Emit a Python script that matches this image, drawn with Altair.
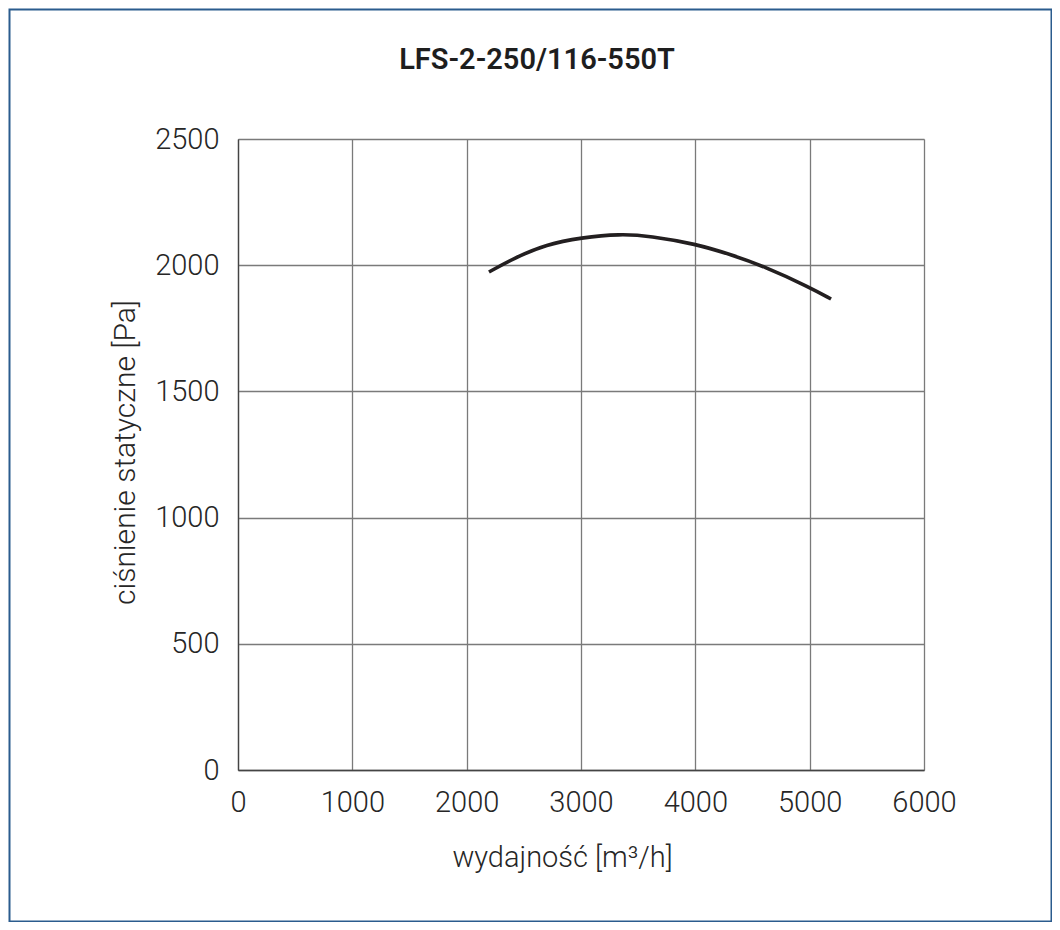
import altair as alt
import pandas as pd

# fan curve
flow = [2195, 2408, 2700, 3000, 3340, 3604, 4006, 4303, 4595, 5003, 5187]
pressure = [1973, 2027, 2083, 2109, 2124, 2116, 2084, 2043, 1997, 1912, 1866]

x_ticks = [0, 1000, 2000, 3000, 4000, 5000, 6000]
y_ticks = [0, 500, 1000, 1500, 2000, 2500]

title_text = "LFS-2-250/116-550T"
x_title = "wydajność [m³/h]"
y_title = "ciśnienie statyczne [Pa]"

font = "Roboto"
ink = "#262626"
grid = "#7a7a7a"

curve_df = pd.DataFrame({"flow": flow, "pressure": pressure})

x_enc = alt.X("flow:Q",
              scale=alt.Scale(domain=[0, 6000], nice=False),
              axis=alt.Axis(values=x_ticks, format="d", title=x_title, grid=True,
                            gridColor=grid, gridWidth=1.3,
                            domainColor="#444444", domainWidth=1.3,
                            ticks=False, labelPadding=18, labelFlush=False,
                            labelFont=font, labelFontSize=29, labelFontWeight=300,
                            labelColor=ink,
                            titleFont=font, titleFontSize=29, titleFontWeight=300,
                            titleColor=ink, titleX=324, titleY=96,
                            titleBaseline="alphabetic", titleAnchor="middle"))
y_enc = alt.Y("pressure:Q",
              scale=alt.Scale(domain=[0, 2500], nice=False),
              axis=alt.Axis(values=y_ticks, format="d", title=y_title, grid=True,
                            gridColor=grid, gridWidth=1.3,
                            domainColor="#444444", domainWidth=1.3,
                            ticks=False, labelPadding=19, labelFlush=False,
                            labelFont=font, labelFontSize=29, labelFontWeight=300,
                            labelColor=ink,
                            titleFont=font, titleFontSize=30, titleFontWeight=300,
                            titleColor=ink, titleAngle=270, titleX=-104, titleY=313,
                            titleBaseline="alphabetic", titleAnchor="middle"))

curve = alt.Chart(curve_df).mark_line(
    interpolate="basis", color="#231f20", strokeWidth=3.6, strokeCap="butt"
).encode(x=x_enc, y=y_enc)

# blue frame round the whole picture
frame = alt.Chart(pd.DataFrame({"a": [0]})).mark_rect(
    fill=None, stroke="#2b5c8e", strokeWidth=2, clip=False
).encode(x=alt.value(-228.5), x2=alt.value(813.5),
         y=alt.value(-129.5), y2=alt.value(782.5))

heading = alt.Chart(pd.DataFrame({"t": [title_text]})).mark_text(
    font=font, fontSize=29, fontWeight=600, color="#1e1e1e",
    align="center", baseline="alphabetic"
).encode(text="t:N", x=alt.value(299), y=alt.value(-70))

chart = alt.layer(curve, frame, heading).properties(
    width=686, height=631,
    autosize=alt.AutoSizeParams(type="none"),
    padding={"left": 230, "top": 131, "right": 128, "bottom": 152},
).configure_view(stroke="#444444", strokeWidth=1.3).configure(background="white")

chart.save("out.html", embed_options={"renderer": "svg", "actions": False})
